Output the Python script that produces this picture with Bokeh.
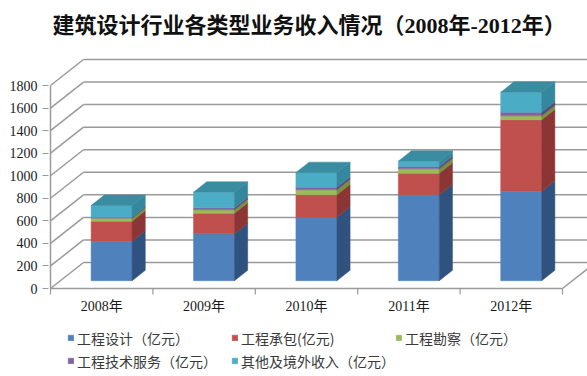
from bokeh.plotting import figure
from bokeh.models import Range1d, FixedTicker, Legend, LegendItem
from bokeh.core.properties import value
from bokeh.embed import file_html
from bokeh.resources import INLINE

# ---------------- data ----------------
years = ["2008年", "2009年", "2010年", "2011年", "2012年"]
design = [350, 416, 563, 762, 794]        # 工程设计
contract = [178, 183, 199, 191, 633]      # 工程承包
survey = [26, 30, 44, 39, 35]             # 工程勘察
tech = [9, 17, 23, 21, 32]                # 工程技术服务
other = [104, 139, 130, 47, 177]          # 其他及境外收入
series_names = ["工程设计（亿元）", "工程承包(亿元)", "工程勘察（亿元）",
                "工程技术服务（亿元）", "其他及境外收入（亿元）"]
y_ticks = [0, 200, 400, 600, 800, 1000, 1200, 1400, 1600, 1800]
title_text = "建筑设计行业各类型业务收入情况（2008年-2012年）"

# ---------------- style ----------------
front_colors = ["#4F81BD", "#C0504D", "#9BBB59", "#8064A2", "#4BACC6"]
side_colors = ["#30527F", "#8B3634", "#76913F", "#5E497B", "#34879C"]
top_color = "#3A8CA1"
grid_color = "#9A9A9A"
SERIF_CJK = "'Liberation Serif', 'Noto Sans CJK SC'"

# 3D geometry expressed in data units
PX_X = 102.4                 # pixels per category
VAL_PER_PX = 1800 / 203.0    # value units per pixel
DX = 33 / PX_X               # depth offset (x)
DY = 26 * VAL_PER_PX         # depth offset (y)
BAR_W = 0.4
T0, T1 = 0.3, 0.7            # bar front / back depth fraction

n = len(years)
p = figure(width=587, height=376, output_backend="svg", toolbar_location=None,
           x_range=Range1d(-2 / PX_X, 537 / PX_X),
           y_range=Range1d(-88 * VAL_PER_PX, 288 * VAL_PER_PX),
           min_border_left=48, min_border_right=0, min_border_top=0,
           min_border_bottom=0)
p.xgrid.visible = False
p.ygrid.visible = False
p.xaxis.visible = False
p.outline_line_color = None
p.background_fill_color = "white"
p.border_fill_color = "white"

# ---------------- walls / grid ----------------
p.segment(x0=[0] * len(y_ticks), y0=y_ticks,
          x1=[DX] * len(y_ticks), y1=[v + DY for v in y_ticks],
          line_color=grid_color, line_width=1.5)
p.segment(x0=[DX] * len(y_ticks), y0=[v + DY for v in y_ticks],
          x1=[n + DX] * len(y_ticks), y1=[v + DY for v in y_ticks],
          line_color=grid_color, line_width=1.5)
p.segment(x0=[0, 0, n], y0=[0, 0, 0], x1=[0, n, n + DX], y1=[y_ticks[-1], 0, DY],
          line_color=grid_color, line_width=1.5)
# category boundary ticks on the front floor edge
p.segment(x0=list(range(n + 1)), y0=[0] * (n + 1),
          x1=list(range(n + 1)), y1=[-6 * VAL_PER_PX] * (n + 1),
          line_color=grid_color, line_width=1.2)

# ---------------- stacked 3D bars ----------------
layers = [design, contract, survey, tech, other]
bottoms = [0] * n
d = T1 - T0
front_renderers = []
left = [i + 0.5 - BAR_W / 2 + T0 * DX for i in range(n)]
right = [l + BAR_W for l in left]
for k, vals in enumerate(layers):
    tops = [b + v for b, v in zip(bottoms, vals)]
    fb = [b + T0 * DY for b in bottoms]
    ft = [t + T0 * DY for t in tops]
    r = p.quad(left=left, right=right, bottom=fb, top=ft,
               fill_color=front_colors[k], line_color=front_colors[k], line_width=0.5)
    front_renderers.append(r)
    xs = [[rr, rr + d * DX, rr + d * DX, rr] for rr in right]
    ys = [[b0, b0 + d * DY, t0 + d * DY, t0] for b0, t0 in zip(fb, ft)]
    p.patches(xs, ys, fill_color=side_colors[k], line_color=side_colors[k], line_width=0.5)
    bottoms = tops

top_front = [t + T0 * DY for t in bottoms]
xs = [[l, rr, rr + d * DX, l + d * DX] for l, rr in zip(left, right)]
ys = [[t, t, t + d * DY, t + d * DY] for t in top_front]
p.patches(xs, ys, fill_color=top_color, line_color=top_color, line_width=0.5)

# ---------------- y axis ----------------
yax = p.yaxis[0]
yax.ticker = FixedTicker(ticks=y_ticks)
yax.axis_line_color = None
yax.major_tick_out = 6
yax.major_tick_in = 0
yax.major_tick_line_color = grid_color
yax.minor_tick_line_color = None
yax.major_label_standoff = 5
yax.major_label_text_font = SERIF_CJK
yax.major_label_text_font_size = "14px"
yax.major_label_text_color = "#1a1a1a"

# ---------------- category labels ----------------
p.text(x=[i + 0.5 for i in range(n)], y=[-18 * VAL_PER_PX] * n, text=years,
       text_align="center", text_baseline="middle",
       text_font=value(SERIF_CJK), text_font_size="14px", text_color="#1a1a1a")

# ---------------- title ----------------
p.text(x=[2 / PX_X], y=[263 * VAL_PER_PX], text=[title_text],
       text_align="left", text_baseline="middle",
       text_font=value(SERIF_CJK), text_font_size="22px", text_font_style="bold",
       text_color="#111111")

# ---------------- legend ----------------
legend = Legend(items=[LegendItem(label=nm, renderers=[rr])
                       for nm, rr in zip(series_names, front_renderers)],
                location=(19, 4), orientation="horizontal", ncols=3,
                glyph_width=7, glyph_height=7, label_standoff=3,
                label_width=154, label_height=23, spacing=0, padding=0, margin=0,
                border_line_color=None, background_fill_alpha=0,
                label_text_font="Noto Sans CJK SC", label_text_font_size="14px",
                label_text_color="#3a3a3a")
p.add_layout(legend)

open("out.html", "w").write(file_html(p, INLINE))
